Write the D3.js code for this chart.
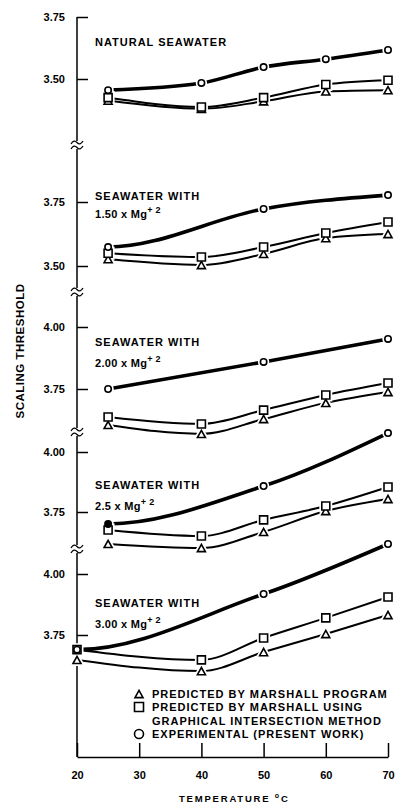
<!DOCTYPE html>
<html lang="en">
<head>
    <meta charset="UTF-8">
    <title>Scaling threshold</title>
    <script src="https://d3js.org/d3.v7.min.js"></script>
    <style>
        body { margin: 0; background: #fff; }
        svg { display: block; }
        text { font-family: "Liberation Sans", Arial, sans-serif; font-weight: bold; fill: #000; }
        .axis path, .axis line { stroke: #000; stroke-width: 1.5; }
        .axis text { font-size: 11px; font-family: "Liberation Sans", Arial, sans-serif; font-weight: bold; }
        .lbl { font-size: 11px; letter-spacing: 1px; }
    </style>
</head>
<body>
<svg width="395" height="803"></svg>

<script>
    // temperatures (deg C)
    var temps = [25, 40, 50, 60, 70];
    var temps5 = [20, 40, 50, 60, 70];
    var expTemps = [25, 50, 70];
    var expTemps5 = [20, 50, 70];

    // natural seawater
    var exp1 = [3.455, 3.484, 3.548, 3.58, 3.617];
    var sq1 = [3.425, 3.387, 3.425, 3.478, 3.495];
    var tri1 = [3.413, 3.38, 3.41, 3.45, 3.455];

    // 1.50 x Mg+2
    var exp2 = [3.574, 3.723, 3.777];
    var sq2 = [3.55, 3.535, 3.574, 3.629, 3.672];
    var tri2 = [3.527, 3.504, 3.547, 3.609, 3.625];

    // 2.00 x Mg+2
    var exp3 = [3.75, 3.859, 3.952];
    var sq3 = [3.637, 3.609, 3.665, 3.726, 3.774];
    var tri3 = [3.605, 3.569, 3.629, 3.694, 3.738];

    // 2.5 x Mg+2
    var exp4 = [3.70, 3.858, 4.079];
    var sq4 = [3.675, 3.65, 3.717, 3.775, 3.854];
    var tri4 = [3.617, 3.60, 3.667, 3.754, 3.804];

    // 3.00 x Mg+2
    var exp5 = [3.69, 3.918, 4.123];
    var sq5 = [3.69, 3.648, 3.738, 3.82, 3.906];
    var tri5 = [3.648, 3.602, 3.68, 3.754, 3.832];

    var tickVals = [[3.50, 3.75], [3.50, 3.75], [3.75, 4.00], [3.75, 4.00], [3.75, 4.00]];
    var ratios = [null, '1.50', '2.00', '2.5', '3.00'];
    var xTicks = [20, 30, 40, 50, 60, 70];
    var legendLabels = ['PREDICTED BY MARSHALL PROGRAM', 'PREDICTED BY MARSHALL USING',
        'GRAPHICAL INTERSECTION METHOD', 'EXPERIMENTAL (PRESENT WORK)'];

    var panels = [
        {xs: temps, ex: [25, 40, 50, 60, 70], exp: exp1, sq: sq1, tri: tri1},
        {xs: temps, ex: expTemps, exp: exp2, sq: sq2, tri: tri2, flatStart: true},
        {xs: temps, ex: expTemps, exp: exp3, sq: sq3, tri: tri3},
        {xs: temps, ex: expTemps, exp: exp4, sq: sq4, tri: tri4, filled: 0, flatStart: true},
        {xs: temps5, ex: expTemps5, exp: exp5, sq: sq5, tri: tri5, flatStart: true}
    ];

    // pixel layout: where each panel's two ticks sit, label baselines, axis breaks
    var tickPx = [[79, 17], [266, 202], [389, 327], [512, 452], [635, 574]];
    var labelY = [46, 200, 346, 489, 607];
    var labelY2 = [null, 218, 367, 510, 628];
    var breaks = [145, 292, 432, 549];

    var svg = d3.select('svg');
    var x0 = 77, x1 = 388, yTop = 17, yBot = 757;

    var x = d3.scaleLinear().domain([20, 70]).range([x0, x1]);

    // y axis line with breaks
    var segs = [yTop].concat(breaks).concat([yBot]);
    for (var i = 0; i < segs.length - 1; i++) {
        svg.append('line')
            .attr('x1', x0).attr('x2', x0)
            .attr('y1', i === 0 ? segs[i] : segs[i] + 4)
            .attr('y2', i === segs.length - 2 ? segs[i + 1] : segs[i + 1] - 4)
            .attr('stroke', '#000').attr('stroke-width', 1.5);
    }
    breaks.forEach(function (b) {
        [-2.5, 2.5].forEach(function (o) {
            svg.append('path')
                .attr('d', 'M' + (x0 - 6) + ',' + (b + o + 1.5) + ' q3,-5 6,-1.5 t6,-1.5')
                .attr('fill', 'none').attr('stroke', '#000').attr('stroke-width', 1.3);
        });
    });

    var xAxis = d3.axisBottom(x)
        .tickValues(xTicks)
        .tickSize(-14)
        .tickSizeOuter(0)
        .tickPadding(14)
        .tickFormat(d3.format('d'));

    svg.append('g')
        .attr('class', 'axis')
        .attr('transform', 'translate(0,' + yBot + ')')
        .call(xAxis);

    var lineG = svg.append('g');
    var haloG = svg.append('g');
    var markG = svg.append('g');

    function tri(s) {
        var h = s * 0.9;
        return 'M0,' + (-h / 2) + 'L' + (s / 2) + ',' + (h / 2) + 'L' + (-s / 2) + ',' + (h / 2) + 'Z';
    }
    function sqr(s) {
        return 'M' + (-s / 2) + ',' + (-s / 2) + 'h' + s + 'v' + s + 'h' + (-s) + 'Z';
    }
    function circ(r) {
        return 'M' + r + ',0A' + r + ',' + r + ' 0 1,1 ' + (-r) + ',0A' + r + ',' + r + ' 0 1,1 ' + r + ',0Z';
    }

    // hand-drawn looking curve: hermite with a level start
    function flatStartPath(px) {
        var n = px.length, s = [], m = [];
        for (var i = 0; i < n - 1; i++) s.push((px[i + 1][1] - px[i][1]) / (px[i + 1][0] - px[i][0]));
        m[0] = 0;
        for (i = 1; i < n - 1; i++) m[i] = (px[i + 1][1] - px[i - 1][1]) / (px[i + 1][0] - px[i - 1][0]);
        m[n - 1] = (3 * s[n - 2] - m[n - 2]) / 2;
        var p = d3.path();
        p.moveTo(px[0][0], px[0][1]);
        for (i = 0; i < n - 1; i++) {
            var h = (px[i + 1][0] - px[i][0]) / 3;
            p.bezierCurveTo(px[i][0] + h, px[i][1] + m[i] * h,
                px[i + 1][0] - h, px[i + 1][1] - m[i + 1] * h,
                px[i + 1][0], px[i + 1][1]);
        }
        return p.toString();
    }

    panels.forEach(function (p, k) {
        var y = d3.scaleLinear().domain(tickVals[k]).range(tickPx[k]);

        var yAxis = d3.axisLeft(y)
            .tickValues(tickVals[k])
            .tickSize(-11)
            .tickPadding(12)
            .tickFormat(d3.format('.2f'));
        var g = svg.append('g').attr('class', 'axis').attr('transform', 'translate(' + x0 + ',0)').call(yAxis);
        g.select('.domain').remove();

        var line = d3.line()
            .x(function (d) { return x(d[0]); })
            .y(function (d) { return y(d[1]); })
            .curve(d3.curveMonotoneX);

        var triPts = p.xs.map(function (t, j) { return [t, p.tri[j]]; });
        var sqPts = p.xs.map(function (t, j) { return [t, p.sq[j]]; });
        var exPts = p.ex.map(function (t, j) { return [t, p.exp[j]]; });

        lineG.append('path').attr('d', line(triPts)).attr('fill', 'none').attr('stroke', '#000').attr('stroke-width', 2);
        lineG.append('path').attr('d', line(sqPts)).attr('fill', 'none').attr('stroke', '#000').attr('stroke-width', 2);
        var expD = p.flatStart
            ? flatStartPath(exPts.map(function (d) { return [x(d[0]), y(d[1])]; }))
            : line(exPts);
        lineG.append('path').attr('d', expD).attr('fill', 'none').attr('stroke', '#000').attr('stroke-width', 3.6);

        var groups = [
            {pts: triPts, d: tri(8)},
            {pts: sqPts, d: sqr(8)},
            {pts: exPts, d: circ(3.2)}
        ];
        groups.forEach(function (grp, gi) {
            grp.pts.forEach(function (pt, j) {
                var tr = 'translate(' + x(pt[0]) + ',' + y(pt[1]) + ')';
                haloG.append('path').attr('d', grp.d).attr('transform', tr)
                    .attr('fill', '#fff').attr('stroke', '#fff').attr('stroke-width', 5);
                markG.append('path').attr('d', grp.d).attr('transform', tr)
                    .attr('fill', (gi === 2 && p.filled === j) ? '#000' : '#fff')
                    .attr('stroke', '#000').attr('stroke-width', 1.6);
            });
        });

        // panel labels
        if (ratios[k] === null) {
            svg.append('text').attr('class', 'lbl').attr('x', 95).attr('y', labelY[k]).text('NATURAL SEAWATER');
        } else {
            svg.append('text').attr('class', 'lbl').attr('x', 95).attr('y', labelY[k]).text('SEAWATER WITH');
            var t = svg.append('text').attr('class', 'lbl').attr('x', 95).attr('y', labelY2[k])
                .style('letter-spacing', '0.3px');
            t.append('tspan').text(ratios[k] + ' x Mg');
            t.append('tspan').attr('dy', -5).attr('font-size', 9).text('+ 2');
        }
    });

    // legend
    var legY = [694, 707, 721, 734];
    var legSym = [tri(8), sqr(9), null, circ(4.5)];
    legendLabels.forEach(function (l, i) {
        if (legSym[i]) {
            svg.append('path').attr('d', legSym[i])
                .attr('transform', 'translate(139,' + legY[i] + ')')
                .attr('fill', '#fff').attr('stroke', '#000').attr('stroke-width', 1.6);
        }
        svg.append('text').attr('class', 'lbl').attr('x', 152).attr('y', legY[i])
            .attr('dy', '0.36em').text(l);
    });

    // axis titles
    svg.append('text')
        .attr('transform', 'translate(24,351) rotate(-90)')
        .attr('text-anchor', 'middle')
        .style('font-size', '11.5px')
        .style('letter-spacing', '0.5px')
        .text('SCALING THRESHOLD');

    var xt = svg.append('text')
        .attr('x', 179).attr('y', 803 - 1)
        .style('font-size', '9.5px')
        .style('letter-spacing', '1.8px')
        .text('TEMPERATURE ');
    xt.append('tspan').attr('dy', -4).attr('font-size', 7).text('o');
    xt.append('tspan').attr('dy', 4).text('C');
</script>
</body>
</html>
